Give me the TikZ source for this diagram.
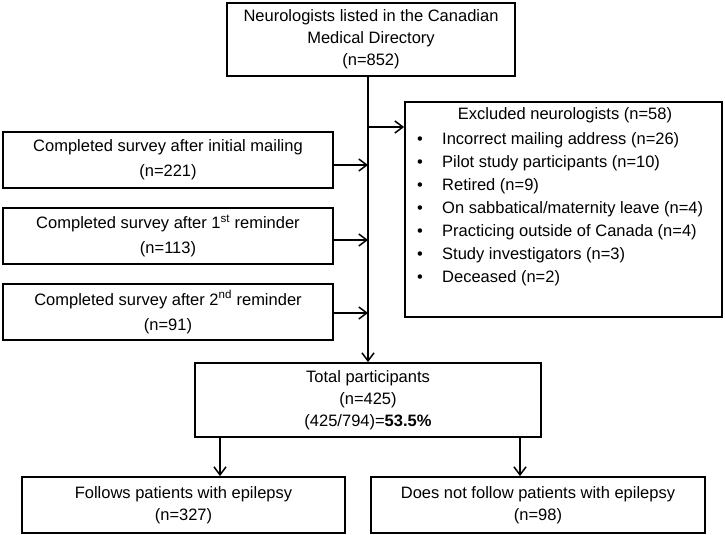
\documentclass[tikz,border=0pt]{standalone}
\usepackage{fontspec}
\setmainfont{Liberation Sans}
\usetikzlibrary{arrows.meta}
\begin{document}
\begin{tikzpicture}[x=1pt,y=-1pt,
  box/.style 2 args={draw, line width=1.8pt, minimum width=#1, minimum height=#2, inner sep=0pt, align=center, font=\fontsize{16.5}{22}\selectfont},
  lbl/.style={inner sep=0pt, anchor=mid west, font=\fontsize{16.5}{22}\selectfont},
  conn/.style={line width=1.5pt, -{Straight Barb[length=8pt,width=12pt,line width=1.5pt]}}]
\useasboundingbox (0,0) rectangle (725,535);
% boxes
\node[box={288}{73}] (top) at (371,39.5) {Neurologists listed in the Canadian\\Medical Directory\\(n=852)};
\node[box={317}{215}] (excl) at (563.5,209.5) {};
\node[box={330}{56}, font=\fontsize{16.5}{25}\selectfont] (b1) at (168,160) {Completed survey after initial mailing\\(n=221)};
\node[box={330}{56}, font=\fontsize{16.5}{25}\selectfont] (b2) at (168,236) {Completed survey after 1\textsuperscript{st} reminder\\(n=113)};
\node[box={330}{56}, font=\fontsize{16.5}{25}\selectfont] (b3) at (168,312) {Completed survey after 2\textsuperscript{nd} reminder\\(n=91)};
\node[box={346}{74}] (total) at (368,400) {Total participants\\(n=425)\\(425/794)=\textbf{53.5\%}};
\node[box={323}{56}] (bl) at (183.5,505) {Follows patients with epilepsy\\(n=327)};
\node[box={334}{56}] (br) at (538,505) {Does not follow patients with epilepsy\\(n=98)};
% excluded list
\node[inner sep=0pt, anchor=mid, font=\fontsize{16.5}{22}\selectfont] (etitle) at (565,117) {Excluded neurologists (n=58)};
\foreach \i/\y/\t in {1/141.7/{Incorrect mailing address (n=26)},
                      2/165/{Pilot study participants (n=10)},
                      3/188.3/{Retired (n=9)},
                      4/210.7/{On sabbatical/maternity leave (n=4)},
                      5/234/{Practicing outside of Canada (n=4)},
                      6/257.3/{Study investigators (n=3)},
                      7/280/{Deceased (n=2)}}{
  \node[inner sep=0pt, anchor=mid, font=\fontsize{16.5}{22}\selectfont] (dot\i) at (420,\y) {•};
  \node[lbl] (item\i) at (442,\y) {\t};
}
% connectors
\coordinate (spine) at (368,0);
\coordinate (jx) at (368,127);
\coordinate (j1) at (368,165);
\coordinate (j2) at (368,240);
\coordinate (j3) at (368,313);
\coordinate (dl) at (220,0);
\coordinate (dr) at (520,0);
\draw[conn] (top.south -| spine) -- (total.north -| spine);
\draw[conn] (jx) -- (excl.west |- jx);
\draw[conn] (b1.east |- j1) -- (j1);
\draw[conn] (b2.east |- j2) -- (j2);
\draw[conn] (b3.east |- j3) -- (j3);
\draw[conn] (total.south -| dl) -- (bl.north -| dl);
\draw[conn] (total.south -| dr) -- (br.north -| dr);
\end{tikzpicture}
\end{document}
